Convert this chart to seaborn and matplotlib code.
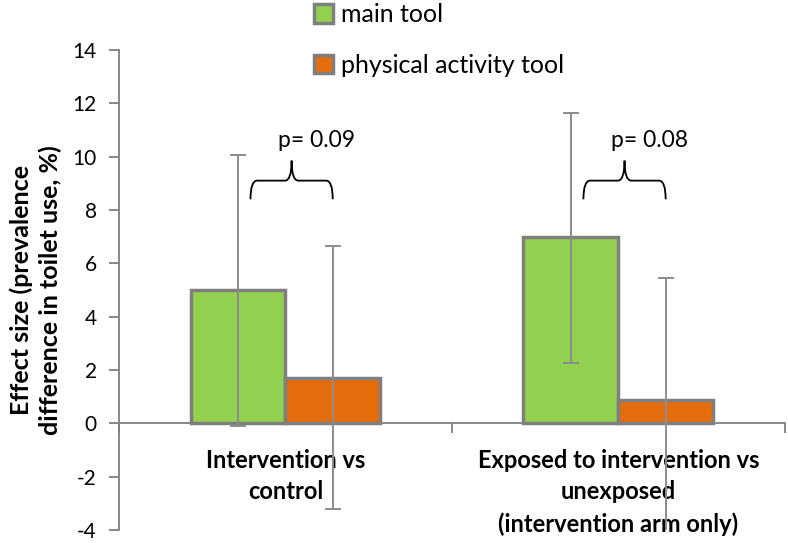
import numpy as np
import pandas as pd
import seaborn as sns
import matplotlib.pyplot as plt
from matplotlib.patches import Patch, PathPatch
from matplotlib.path import Path
from matplotlib.ticker import FixedLocator, NullFormatter

# data
comparisons = ['Intervention vs\ncontrol',
               'Exposed to intervention vs\nunexposed\n(intervention arm only)']
tools = ['main tool', 'physical activity tool']
main_effect = [5.0, 7.0]
main_low = [-0.1, 2.25]
main_high = [10.05, 11.65]
pa_effect = [1.68, 0.88]
pa_low = [-3.2, -4.4]
pa_high = [6.65, 5.45]
p_values = ['p= 0.09', 'p= 0.08']

sns.set_theme(style='white')
plt.rcParams['font.family'] = ['Lato', 'DejaVu Sans']
plt.rcParams['axes.unicode_minus'] = False
plt.rcParams['text.color'] = 'black'
plt.rcParams['axes.labelcolor'] = 'black'
plt.rcParams['xtick.color'] = 'black'
plt.rcParams['ytick.color'] = 'black'

green = '#92D050'
orange = '#E46C0A'
edge = '#7F7F7F'
errc = '#8C8C8C'

df = pd.DataFrame({
    'comparison': comparisons * 2,
    'tool': [tools[0]] * 2 + [tools[1]] * 2,
    'effect': main_effect + pa_effect,
})

fig = plt.figure(figsize=(7.88, 5.43), dpi=100)
ax = fig.add_axes([0.151, 0.024, 0.845, 0.884])

sns.barplot(data=df, x='comparison', y='effect', hue='tool', order=comparisons,
            hue_order=tools, palette=[green, orange], width=0.57, saturation=1,
            edgecolor=edge, linewidth=2.5, errorbar=None, ax=ax, legend=False)

# error bars at bar centres
lows = [main_low, pa_low]
highs = [main_high, pa_high]
vals = [main_effect, pa_effect]
bar_conts = list(ax.containers)
for k, cont in enumerate(bar_conts):
    xs = [b.get_x() + b.get_width() / 2 for b in cont.patches]
    yerr = [np.array(vals[k]) - np.array(lows[k]), np.array(highs[k]) - np.array(vals[k])]
    ax.errorbar(xs, vals[k], yerr=yerr, fmt='none', ecolor=errc,
                elinewidth=1.4, capsize=6, capthick=1.4, zorder=5)

# curly braces and p values
brace_lo, brace_hi = -0.105, 0.142
y_tip, y_bar, y_peak = 8.4, 9.1, 9.85
for i, p in enumerate(p_values):
    x0, x1 = i + brace_lo, i + brace_hi
    xm = (x0 + x1) / 2
    r = 0.02
    verts = [(x0, y_tip), (x0, y_bar), (x0 + r, y_bar),
             (xm - r, y_bar), (xm, y_bar), (xm, y_peak),
             (xm, y_bar), (xm + r, y_bar),
             (x1 - r, y_bar), (x1, y_bar), (x1, y_tip)]
    codes = [Path.MOVETO, Path.CURVE3, Path.CURVE3,
             Path.LINETO, Path.CURVE3, Path.CURVE3,
             Path.CURVE3, Path.CURVE3,
             Path.LINETO, Path.CURVE3, Path.CURVE3]
    ax.add_patch(PathPatch(Path(verts, codes), fill=False, edgecolor='black',
                           linewidth=1.3, zorder=6))
    ax.text(xm + 0.075, 10.6, p, ha='center', va='center', fontsize=16.5)

ax.set_xlim(-0.5, 1.5)
ax.set_ylim(-4, 14)
ax.set_yticks(np.arange(-4, 15, 2))
ax.xaxis.set_major_locator(FixedLocator([-0.5, 0.5, 1.5]))
ax.xaxis.set_major_formatter(NullFormatter())
ax.tick_params(axis='x', length=7, width=1.3, color=edge, bottom=True)
ax.tick_params(axis='y', length=7, width=1.3, color=edge, left=True, pad=9, labelsize=15)

# category labels under the zero line
for i, c in enumerate(comparisons):
    ax.text(i, -0.95, c, ha='center', va='top', fontsize=17, fontweight='bold',
            linespacing=1.45)

ax.set_xlabel('')
ax.set_ylabel('Effect size (prevalence\ndifference in toilet use, %)',
              fontweight='bold', fontsize=18, linespacing=1.25)
ax.yaxis.set_label_coords(-0.086, 0.5)

for s in ['top', 'right']:
    ax.spines[s].set_visible(False)
ax.spines['left'].set_color(edge)
ax.spines['left'].set_linewidth(1.3)
ax.spines['bottom'].set_position(('data', 0))
ax.spines['bottom'].set_color(edge)
ax.spines['bottom'].set_linewidth(1.3)

handles = [Patch(facecolor=green, edgecolor=edge, linewidth=2.5),
           Patch(facecolor=orange, edgecolor=edge, linewidth=2.5)]
fig.legend(handles, tools, loc='upper left', bbox_to_anchor=(0.398, 0.994),
           frameon=False, fontsize=18, handlelength=0.78, handleheight=0.78,
           handletextpad=0.3, labelspacing=1.1, borderpad=0.0, borderaxespad=0)

fig.savefig('out.png', dpi=100)
